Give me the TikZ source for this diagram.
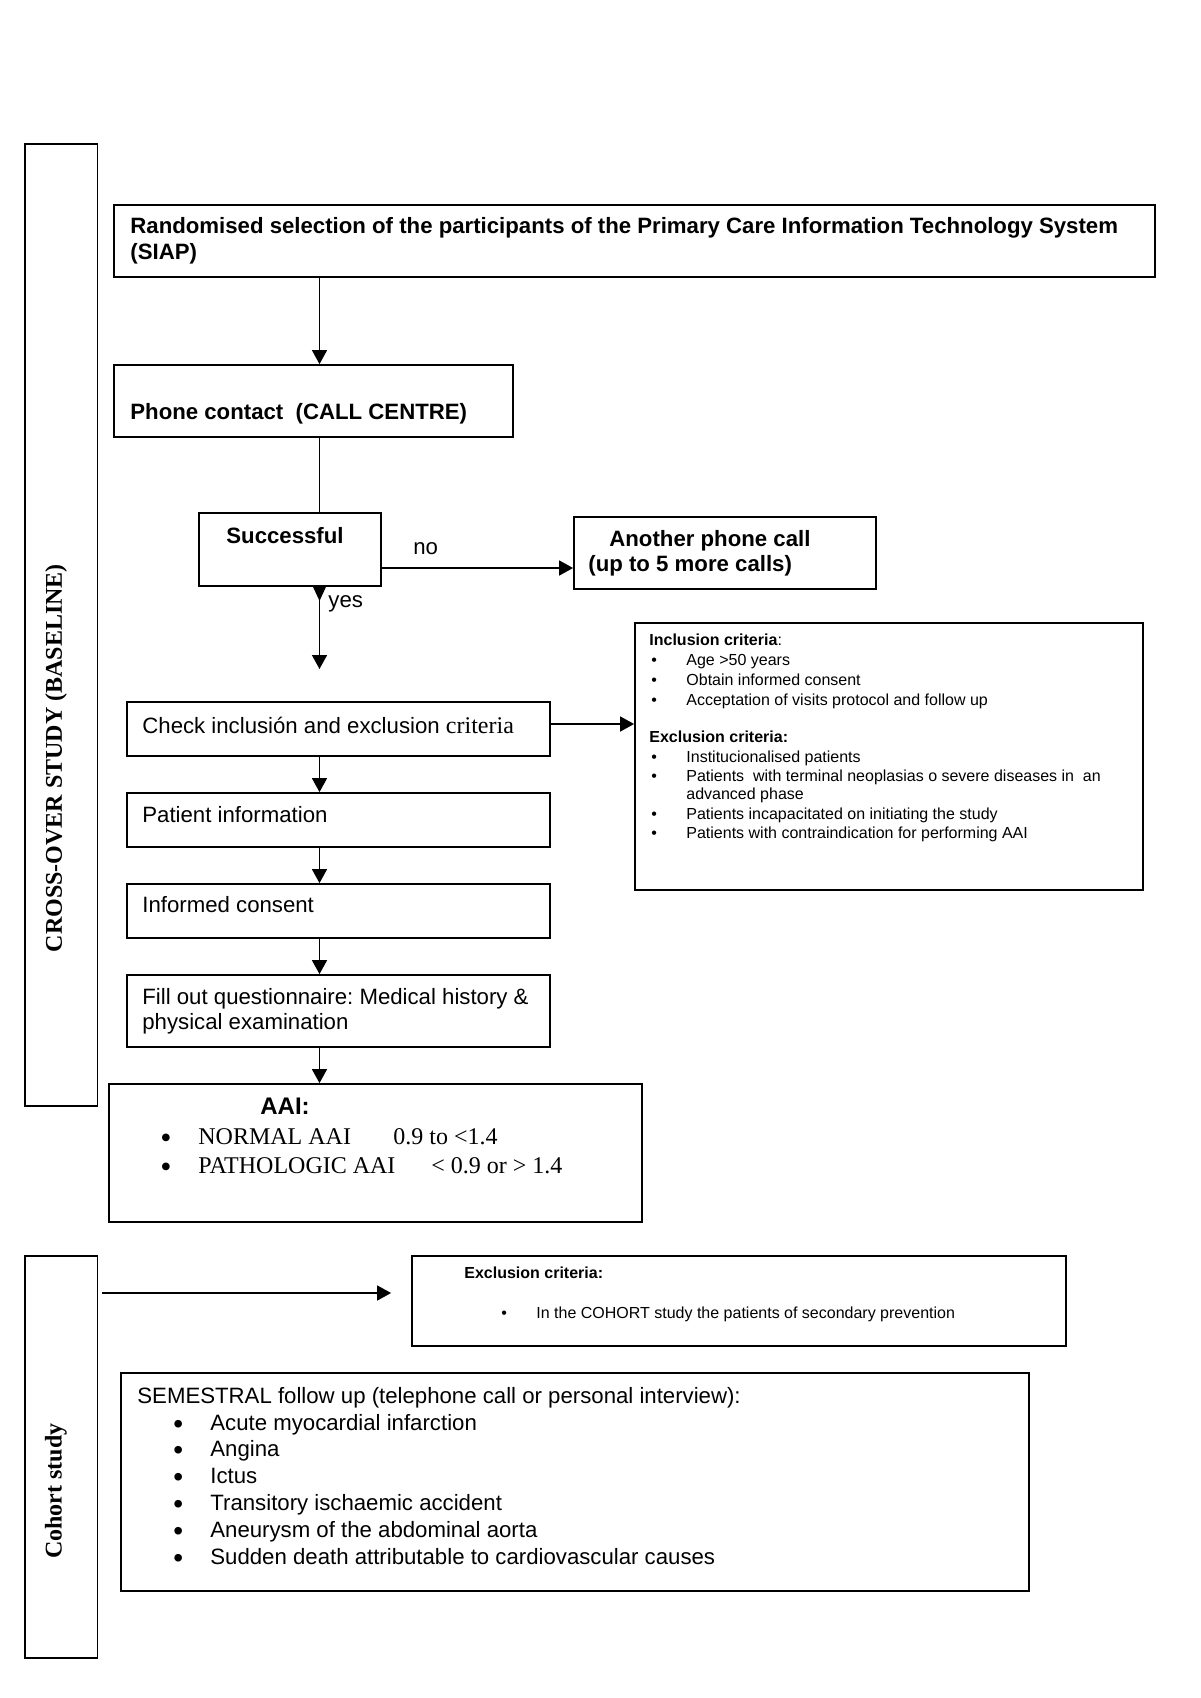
\documentclass[tikz,border=0pt]{standalone}
\usepackage{fontspec}
\setmainfont{Liberation Sans}
\newfontfamily\tnr{Liberation Serif}
\usetikzlibrary{arrows.meta,fit}
\frenchspacing
\begin{document}
\frenchspacing
\begin{tikzpicture}[x=0.5pt,y=-0.5pt,
  box/.style={draw, line width=0.9pt, inner sep=0pt},
  txt/.style={anchor=base west, inner sep=0pt, yshift=-0.5pt, font=\frenchspacing\fontsize{11.1}{13}\selectfont},
  btxt/.style={anchor=base west, inner sep=0pt, yshift=-0.5pt, font=\frenchspacing\fontsize{11.1}{13}\selectfont\bfseries},
  small/.style={anchor=base west, inner sep=0pt, yshift=-0.5pt, font=\frenchspacing\fontsize{8}{9.6}\selectfont},
  serif/.style={anchor=base west, inner sep=0pt, yshift=-0.5pt, font=\tnr\fontsize{12}{14}\selectfont},
  aaibul/.style={anchor=base west, inner sep=0pt, font=\tnr\fontsize{16}{18}\selectfont},
  sembul/.style={anchor=base west, inner sep=0pt, font=\fontsize{14}{16}\selectfont},
  vlab/.style={rotate=90, inner sep=0pt, font=\tnr\bfseries\fontsize{12}{14}\selectfont},
  ln/.style={line width=0.8pt},
  arr/.style={line width=0.8pt, -{Triangle[length=7pt,width=7.5pt]}},
]
\path[fill=white, use as bounding box] (0,0) rectangle (1200,1698);
\coordinate (spine) at (319.5,0);

% ---------- boxes ----------
\node[box, fit={(25,144)(97.5,1106)}] (lcross) {};
\node[box, fit={(114,205)(1155,277)}] (rand) {};
\node[box, fit={(114,365)(513,437)}] (phone) {};
\node[box, fit={(199,513)(381,586)}] (succ) {};
\node[box, fit={(574,517)(876,589)}] (another) {};
\node[box, fit={(635,623)(1143,890)}] (incl) {};
\node[box, fit={(127,702)(550,756)}] (check) {};
\node[box, fit={(127,793)(550,847)}] (pinfo) {};
\node[box, fit={(127,884)(550,938)}] (consent) {};
\node[box, fit={(127,975)(550,1047)}] (fill) {};
\node[box, fit={(109,1084)(642,1222)}] (aai) {};
\node[box, fit={(25,1256)(97.5,1658)}] (lcohort) {};
\node[box, fit={(412,1256)(1066,1346)}] (excl) {};
\node[box, fit={(121,1373)(1029,1591)}] (sem) {};

% ---------- vertical labels ----------
\node[vlab] (vl1) at (56,758) {CROSS-OVER STUDY (BASELINE)};
\node[vlab] (vl2) at (56,1491) {Cohort study};

% ---------- texts ----------
\node[btxt] (t1a) at (130,232) {Randomised selection of the participants of the Primary Care Information Technology System};
\node[btxt] (t1b) at (130,258) {(SIAP)};
\node[btxt] (tphone) at (130,418) {Phone contact\ \ (CALL CENTRE)};
\node[btxt] (tsucc) at (226,542) {Successful};
\node[txt] (tno) at (413,553) {no};
\node[btxt] (tan1) at (609,545) {Another phone call};
\node[btxt] (tan2) at (588,570) {(up to 5 more calls)};
\node[txt] (tyes) at (328,606) {yes};

\node[small] (ih) at (649,644) {\textbf{Inclusion criteria}:};
\node[small] (ib1) at (651,664) {•};
\node[small] (it1) at (686,664) {Age >50 years};
\node[small] (ib2) at (651,684) {•};
\node[small] (it2) at (686,684) {Obtain informed consent};
\node[small] (ib3) at (651,704) {•};
\node[small] (it3) at (686,704) {Acceptation of visits protocol and follow up};
\node[small] (eh) at (649,741) {\textbf{Exclusion criteria:}};
\node[small] (eb1) at (651,761) {•};
\node[small] (et1) at (686,761) {Institucionalised patients};
\node[small] (eb2) at (651,780) {•};
\node[small] (et2) at (686,780) {Patients\ \ with terminal neoplasias o severe diseases in\ \ an};
\node[small] (et2b) at (686,798) {advanced phase};
\node[small] (eb3) at (651,818) {•};
\node[small] (et3) at (686,818) {Patients incapacitated on initiating the study};
\node[small] (eb4) at (651,837) {•};
\node[small] (et4) at (686,837) {Patients with contraindication for performing AAI};

\node[txt] (tcheck) at (142,732) {Check inclusión and exclusion {\tnr\fontsize{12}{14}\selectfont criteria}};
\node[txt] (tpinfo) at (142,821) {Patient information};
\node[txt] (tconsent) at (142,911) {Informed consent};
\node[txt] (tfill1) at (142,1003) {Fill out questionnaire: Medical history \&};
\node[txt] (tfill2) at (142,1028) {physical examination};

\node[anchor=base west, inner sep=0pt, yshift=-0.5pt, font=\fontsize{12}{14}\selectfont\bfseries] (taai) at (260,1113) {AAI:};
\node[aaibul] (ab1) at (160,1148) {•};
\node[serif] (an1) at (198,1143) {NORMAL AAI};
\node[serif] (av1) at (393,1143) {0.9 to <1.4};
\node[aaibul] (ab2) at (160,1177) {•};
\node[serif] (an2) at (198,1172) {PATHOLOGIC AAI};
\node[serif] (av2) at (431,1172) {< 0.9 or > 1.4};

\node[small] (xh) at (464,1277) {\textbf{Exclusion criteria:}};
\node[small] (xb1) at (501,1317) {•};
\node[small] (xt1) at (536,1317) {In the COHORT study the patients of secondary prevention};

\node[txt] (sh) at (137,1402) {SEMESTRAL follow up (telephone call or personal interview):};
\foreach \yy/\tt [count=\i] in {1429/Acute myocardial infarction,1455/Angina,1482/Ictus,1509/Transitory ischaemic accident,1536/Aneurysm of the abdominal aorta,1563/Sudden death attributable to cardiovascular causes}{
  \node[sembul] (sb\i) at (173,\yy+4) {•};
  \node[txt] (st\i) at (210,\yy) {\tt};
}

% ---------- connectors ----------
\draw[arr] (rand.south -| spine) -- (phone.north -| spine);
\draw[ln] (phone.south -| spine) -- (succ.north -| spine);
\draw[arr] (succ.east |- 0,568) -- (another.west |- 0,568);
\coordinate (yesend) at (319.5,669);
\draw[arr] (succ.south -| spine) -- (yesend);
\fill (succ.south -| spine) ++(-6.5,0) -- ++(13,0) -- ++(-6.5,14) -- cycle;
\draw[arr] (check.east |- 0,724) -- (incl.west |- 0,724);
\draw[arr] (check.south -| spine) -- (pinfo.north -| spine);
\draw[arr] (pinfo.south -| spine) -- (consent.north -| spine);
\draw[arr] (consent.south -| spine) -- (fill.north -| spine);
\draw[arr] (fill.south -| spine) -- (aai.north -| spine);
\draw[arr, shorten <=2pt, shorten >=10pt] (lcohort.east |- 0,1293) -- (excl.west |- 0,1293);
\end{tikzpicture}
\end{document}
